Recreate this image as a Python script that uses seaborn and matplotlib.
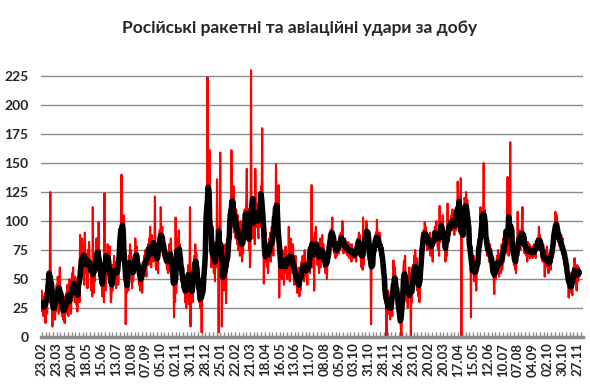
import numpy as np
import pandas as pd
import matplotlib
matplotlib.use("Agg")
import matplotlib.pyplot as plt
from matplotlib.ticker import MultipleLocator, FixedLocator
import seaborn as sns

# daily counts of strikes (23.02.2022 onwards)
strikes_2022 = [
    40, 22, 35, 18, 30, 25, 38, 12, 28, 45, 20, 52, 36, 48,
    30, 55, 125, 40, 28, 35, 9, 32, 18, 40, 25, 15, 35, 22,
    45, 30, 52, 38, 20, 48, 60, 35, 42, 28, 18, 30, 15, 22,
    35, 12, 28, 20, 38, 25, 45, 30, 18, 40, 50, 25, 32, 20,
    38, 55, 42, 60, 35, 48, 30, 52, 40, 28, 45, 22, 50, 35,
    42, 30, 88, 55, 48, 62, 85, 70, 60, 78, 45, 90, 65, 72,
    55, 68, 42, 75, 60, 82, 70, 58, 65, 40, 52, 35, 112, 45,
    38, 55, 48, 62, 70, 85, 60, 72, 58, 99, 65, 75, 48, 55,
    50, 42, 35, 60, 48, 30, 124, 55, 40, 62, 72, 58, 80, 65,
    70, 55, 78, 45, 30, 35, 48, 40, 62, 55, 70, 48, 60, 65,
    42, 58, 50, 68, 45, 62, 78, 88, 70, 95, 140, 85, 92, 78,
    105, 80, 72, 60, 11, 45, 38, 55, 62, 40,
    70, 58, 80, 65, 75, 50, 42, 62, 48, 55, 70, 62, 85, 72,
    60, 78, 65, 72, 58, 45, 62, 40, 55, 48, 60, 38, 52, 65,
    58, 70, 62, 75, 60, 52, 72, 68, 80, 62, 85, 70, 95, 72,
    60, 88, 75, 70, 65, 72, 78, 121, 65, 58, 70, 62, 78, 55,
    85, 70, 92, 75, 112, 80, 90, 95, 70, 85, 68, 80, 72, 65,
    75, 62, 58, 70, 55, 72, 80, 58, 70, 85, 65, 72, 55, 62,
    48, 17, 40, 30, 103, 38, 55, 70, 85, 78, 92, 65, 80, 62,
    70, 48, 58, 42, 60, 45, 38, 52, 30, 48, 25, 40, 55, 35,
    62, 28, 45, 112, 9, 50, 38, 48, 30, 55, 45, 70, 58, 80,
    65, 72, 50, 62, 45, 40, 30, 45, 25, 50, 35, 4, 42, 48,
    38, 55, 45, 60, 70, 85, 90, 105,
]
strikes_2023 = [
    224, 120, 95, 110, 161, 85,
    75, 60, 88, 70, 95, 62, 55, 70, 48, 82, 60, 75, 136, 70,
    85, 4, 95, 90,
    159, 70, 60, 9, 75, 50, 62, 40, 70, 55, 80, 29, 65, 85,
    60, 78, 70, 95, 85, 110, 100, 161, 120, 95, 105, 130, 90, 115,
    100, 85, 110, 92, 80, 105, 75, 95, 88, 70, 100, 78, 90, 65,
    85, 72, 95, 80, 110, 90, 100, 120, 145, 95, 85, 110, 75, 90,
    60, 75, 230, 90, 110, 85, 120, 95, 105, 80, 145, 110, 95, 100,
    115, 90, 85, 105, 120, 95, 110, 130, 125, 180, 100, 90, 46, 70,
    85, 65, 90, 70, 60, 80, 55, 75, 85, 70, 90, 65, 80, 95,
    75, 88, 70, 100, 90, 115, 105, 149, 95, 120, 110, 85, 131, 34,
    70, 55, 80, 62, 50, 75, 58, 68, 45, 72, 60, 78, 55, 65,
    50, 70, 62, 95, 58, 48, 68, 85, 60, 72, 55, 80, 65, 45,
    60, 52, 70, 45, 55, 38, 50, 42, 60, 35, 48, 40, 55, 65,
    50, 70, 58, 62, 48, 75, 55, 65, 52, 60, 45, 68, 58, 62,
    70, 55, 65, 80, 131, 72, 60, 85, 70, 40, 90, 78, 95, 82,
    75, 62, 80, 68, 55, 72, 85, 60, 78, 70, 88, 65, 80, 72,
    60, 70, 55, 68, 62, 50, 72, 65, 78, 70, 85, 80, 92, 88,
    95, 103, 82, 90, 78, 72, 85, 68, 80, 75, 70, 78, 82, 72,
    80, 88, 75, 90, 82, 78, 100, 85, 72, 80, 78, 85, 75, 80,
    72, 78, 70, 82, 75, 68, 80, 72, 78, 65, 80, 72, 75, 70,
    68, 75, 70, 72, 65, 78, 80, 85, 75, 90, 82, 88, 70, 65,
    60, 72, 58, 103, 62, 70, 78, 92, 85, 100, 95, 88, 92, 85,
    90, 80, 72, 65, 11, 75, 68, 60, 72, 78, 70, 85, 80, 90,
    78, 101, 88, 80, 85, 75, 90, 70, 78, 72, 80, 68, 75, 60,
    55, 48, 40, 38, 45, 0, 35, 28, 40, 20, 30, 25, 15, 35,
    22, 30, 18, 40, 66, 55, 45, 60, 38, 50, 42, 35, 28, 40,
    25, 18, 12, 20, 8,
]
strikes_2024 = [
    0, 15, 30, 45, 60, 66, 55, 70, 48,
    40, 30, 45, 25, 38, 50, 60, 42, 35, 0, 55, 30, 48, 62,
    45, 70, 55, 75, 62, 50, 68, 40, 55, 35, 48, 30, 42, 60,
    55, 70, 90, 85, 78, 92, 80, 99, 88, 95, 82, 90, 75, 85,
    80, 88, 75, 90, 70, 85, 78, 82, 65, 90, 85, 80, 95, 88,
    92, 100, 85, 80, 75, 90, 70, 113, 82, 95, 88, 100, 92, 105,
    90, 85, 78, 82, 65, 75, 80, 70, 115, 85, 90, 95, 88, 100,
    98, 105, 92, 110, 95, 100, 90, 88, 98, 105, 92, 110, 100, 134,
    120, 105, 115, 98, 110, 137, 0, 95, 88, 102, 110, 98, 120, 115,
    112, 125, 105, 118, 95, 100, 90, 85, 92, 80, 17, 78, 70, 62,
    55, 70, 48, 62, 50, 65, 40, 58, 72, 60, 78, 65, 70, 85,
    112, 80, 95, 88, 100, 105, 150, 95, 110, 90, 85, 75, 80, 70,
    85, 78, 65, 72, 80, 68, 75, 60, 70, 55, 62, 48, 37, 58,
    65, 50, 62, 70, 58, 75, 60, 52, 68, 72, 55, 62, 80, 58,
    70, 85, 65, 80, 90, 72, 88, 75, 95, 138, 80, 70, 90, 85,
    168, 78, 90, 72, 85, 80, 70, 62, 75, 58, 68, 55, 72, 65,
    108, 70, 85, 78, 92, 75, 88, 80, 95, 112, 82, 78, 90, 72,
    85, 80, 70, 78, 65, 82, 75, 70, 80, 68, 78, 72, 75, 70,
    68, 78, 72, 80, 70, 75, 68, 82, 78, 85, 75, 80, 95, 82,
    88, 78, 85, 70, 75, 65, 80, 72, 68, 52, 75, 70, 62, 78,
    60, 72, 55, 68, 62, 70, 58, 75, 65, 80, 72, 85, 78, 92,
    95, 108, 100, 90, 105, 88, 95, 82, 90, 78, 85, 75, 88, 80,
    72, 85, 68, 78, 62, 75, 65, 70, 58, 62, 48, 55, 34, 50,
    45, 40, 55, 38, 42, 36, 48, 60, 55, 68, 62, 58, 50, 40,
    62, 55, 48, 60, 58,
]

tick_labels = [
    "23.02", "23.03", "20.04", "18.05", "15.06", "13.07", "10.08", "07.09",
    "05.10", "02.11", "30.11", "28.12", "25.01", "22.02", "21.03", "18.04",
    "16.05", "13.06", "11.07", "08.08", "05.09", "03.10", "31.10", "28.11",
    "26.12", "23.01", "20.02", "20.03", "17.04", "15.05", "12.06", "10.07",
    "07.08", "04.09", "02.10", "30.10", "27.11",
]

values = strikes_2022 + strikes_2023 + strikes_2024
df = pd.DataFrame({"day": np.arange(len(values)), "strikes": values})
df["avg7"] = df["strikes"].rolling(7, center=True, min_periods=4).mean()

sns.set_style("white")
plt.rcParams["font.family"] = ["Lato", "DejaVu Sans"]

fig = plt.figure(figsize=(5.9, 3.92), dpi=100)
ax = fig.add_axes([41 / 590, 1 - 337 / 392, 542 / 590, (337 - 64.4) / 392])

sns.lineplot(data=df, x="day", y="strikes", color="#ff0000", lw=1.5, ax=ax)
sns.lineplot(data=df, x="day", y="avg7", color="black", lw=4, ax=ax)

ax.set_xlim(-1.5, 1019)
ax.set_ylim(0, 235)
ax.set_yticks(range(0, 226, 25))
ax.yaxis.grid(True, color="#8c8c8c", lw=1)
ax.xaxis.grid(False)
for s in ["top", "right", "left"]:
    ax.spines[s].set_visible(False)
ax.spines["bottom"].set_color("#8c8c8c")
ax.spines["bottom"].set_linewidth(2.5)

ax.xaxis.set_major_locator(FixedLocator(range(0, 28 * len(tick_labels), 28)))
ax.set_xticklabels(tick_labels, rotation=90, fontsize=9.5, fontweight="bold")
ax.xaxis.set_minor_locator(MultipleLocator(7))
ax.tick_params(axis="x", which="both", direction="in", length=3.5, width=1,
               color="#8c8c8c", pad=4, bottom=True)
ax.tick_params(axis="y", length=0, pad=9, labelsize=10)
for t in ax.get_yticklabels():
    t.set_fontweight("bold")
ax.set_xlabel("")
ax.set_ylabel("")

fig.text(0.508, 1 - 28 / 392, "Російські ракетні та авіаційні удари за добу",
         ha="center", va="center", fontsize=12.5, fontweight="bold")

fig.savefig("out.png", dpi=100)
